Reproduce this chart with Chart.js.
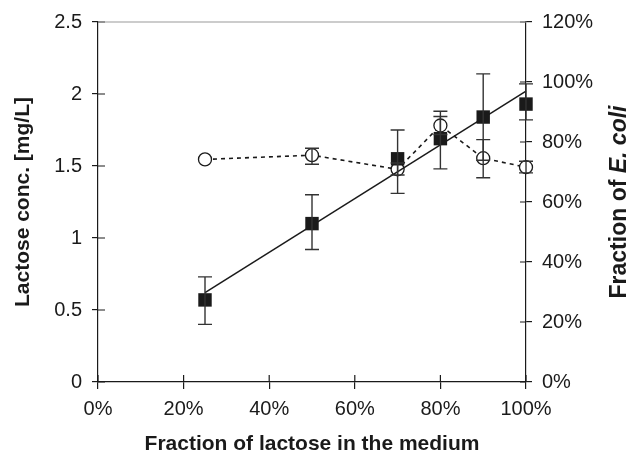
<!DOCTYPE html>
<html lang="en">
  <head>
    <meta charset="UTF-8" />
    <script src="https://cdn.jsdelivr.net/npm/chart.js@4.4.0/dist/chart.umd.min.js"></script>
    <title>Lactose chart</title>
    <style>
      body { margin: 0; background: #fff; }
      #wrap { width: 633px; height: 456px; }
    </style>
  </head>
  <body>
    <div id="wrap"><canvas id="chart"></canvas></div>

    <script>
      // values
      const fractions = [0.25, 0.5, 0.7, 0.8, 0.9, 1.0];
      const lactose = [0.57, 1.1, 1.55, 1.69, 1.84, 1.93];
      const lactoseHigh = [0.73, 1.3, 1.75, 1.88, 2.14, 2.07];
      const lactoseLow = [0.4, 0.92, 1.31, 1.48, 1.54, 1.82];
      const ecoli = [0.742, 0.756, 0.709, 0.855, 0.746, 0.716];
      const ecoliHigh = [0.742, 0.779, 0.73, 0.885, 0.808, 0.736];
      const ecoliLow = [0.742, 0.726, 0.69, 0.825, 0.681, 0.697];
      // linear fit through the lactose points
      const fitX = [0.25, 1.0];
      const fitY = [0.62, 2.02];

      const ink = "#1a1a1a";
      const FONT = "'Liberation Sans', Arial, sans-serif";
      Chart.defaults.font.family = FONT;
      Chart.defaults.color = ink;

      const pct = (v) => Math.round(v * 100) + "%";

      // error bars, inner tick marks, top frame and the right title
      const extras = {
        id: "extras",
        afterDatasetsDraw(chart) {
          const ctx = chart.ctx;
          const x = chart.scales.x, y = chart.scales.y, y2 = chart.scales.y2;
          ctx.save();
          ctx.strokeStyle = "#333";
          ctx.lineWidth = 1.4;
          const bar = (px, top, bot, cap) => {
            ctx.beginPath();
            ctx.moveTo(px, top); ctx.lineTo(px, bot);
            ctx.moveTo(px - cap, top); ctx.lineTo(px + cap, top);
            ctx.moveTo(px - cap, bot); ctx.lineTo(px + cap, bot);
            ctx.stroke();
          };
          fractions.forEach((f, i) => {
            const px = x.getPixelForValue(f);
            bar(px, y.getPixelForValue(lactoseHigh[i]), y.getPixelForValue(lactoseLow[i]), 7);
            if (ecoliHigh[i] !== ecoliLow[i]) {
              bar(px, y2.getPixelForValue(ecoliHigh[i]), y2.getPixelForValue(ecoliLow[i]), 7);
            }
          });
          ctx.restore();
        },
        afterDraw(chart) {
          const ctx = chart.ctx;
          const a = chart.chartArea;
          const x = chart.scales.x, y = chart.scales.y, y2 = chart.scales.y2;
          ctx.save();
          ctx.strokeStyle = ink;
          ctx.lineWidth = 1.2;
          ctx.beginPath();
          y.ticks.forEach((t) => {
            const p = y.getPixelForValue(t.value);
            ctx.moveTo(a.left, p); ctx.lineTo(a.left + 7, p);
          });
          y2.ticks.forEach((t) => {
            const p = y2.getPixelForValue(t.value);
            ctx.moveTo(a.right, p); ctx.lineTo(a.right - 6, p);
          });
          x.ticks.forEach((t) => {
            const p = x.getPixelForValue(t.value);
            ctx.moveTo(p, a.bottom); ctx.lineTo(p, a.bottom - 7);
          });
          ctx.stroke();
          // light top frame
          ctx.strokeStyle = "#9a9a9a";
          ctx.beginPath();
          ctx.moveTo(a.left, a.top); ctx.lineTo(a.right, a.top);
          ctx.stroke();

          // right axis title, reading upwards, with italic species name
          const partA = "Fraction of ";
          const partB = "E. coli";
          const fA = "bold 23px " + FONT;
          const fB = "italic bold 23px " + FONT;
          ctx.font = fA;
          const wA = ctx.measureText(partA).width;
          ctx.font = fB;
          const wB = ctx.measureText(partB).width;
          ctx.translate(620, (a.top + a.bottom) / 2);
          ctx.rotate(-Math.PI / 2);
          ctx.fillStyle = ink;
          ctx.textBaseline = "middle";
          ctx.textAlign = "left";
          ctx.font = fA;
          ctx.fillText(partA, -(wA + wB) / 2, 0);
          ctx.font = fB;
          ctx.fillText(partB, -(wA + wB) / 2 + wA, 0);
          ctx.restore();
        },
      };

      const ctx = document.getElementById("chart").getContext("2d");
      const myChart = new Chart(ctx, {
        type: "scatter",
        data: {
          datasets: [
            {
              label: "Lactose conc.",
              data: fractions.map((f, i) => ({ x: f, y: lactose[i] })),
              yAxisID: "y",
              pointStyle: "rect",
              pointRadius: 9.5,
              backgroundColor: ink,
              borderColor: ink,
              borderWidth: 0,
              clip: false,
              order: 0,
            },
            {
              label: "Fit",
              data: fitX.map((f, i) => ({ x: f, y: fitY[i] })),
              yAxisID: "y",
              showLine: true,
              pointRadius: 0,
              borderColor: ink,
              borderWidth: 1.5,
              clip: false,
              order: 1,
            },
            {
              label: "Fraction of E. coli",
              data: fractions.map((f, i) => ({ x: f, y: ecoli[i] })),
              yAxisID: "y2",
              showLine: true,
              borderDash: [4, 4],
              borderColor: ink,
              borderWidth: 1.6,
              pointStyle: "circle",
              pointRadius: 6.5,
              pointBackgroundColor: "#fff",
              pointBorderColor: ink,
              pointBorderWidth: 1.3,
              clip: false,
              order: 2,
            },
          ],
        },
        options: {
          responsive: true,
          maintainAspectRatio: false,
          animation: false,
          layout: { padding: { top: 20, left: 0, right: 0, bottom: 0 } },
          plugins: {
            legend: { display: false },
            tooltip: { enabled: false },
          },
          scales: {
            x: {
              type: "linear",
              min: 0,
              max: 1,
              afterFit: (s) => { s.height = 74; },
              ticks: {
                stepSize: 0.2,
                padding: 8,
                font: { size: 20 },
                callback: pct,
              },
              grid: { drawOnChartArea: false, tickLength: 7, color: ink, lineWidth: 1.2 },
              border: { color: ink, width: 1.2 },
              title: {
                display: true,
                text: "Fraction of lactose in the medium",
                font: { size: 21, weight: "bold", lineHeight: 1 },
                padding: { top: 0, bottom: 1 },
              },
            },
            y: {
              position: "left",
              min: 0,
              max: 2.5,
              afterFit: (s) => { s.width = 98; },
              ticks: {
                stepSize: 0.5,
                padding: 10,
                font: { size: 20 },
                callback: (v) => String(Math.round(v * 10) / 10),
              },
              grid: { drawOnChartArea: false, tickLength: 6, color: ink, lineWidth: 1.2 },
              border: { color: ink, width: 1.2 },
              title: {
                display: true,
                text: "Lactose conc. [mg/L]",
                font: { size: 21, weight: "bold", lineHeight: 1 },
                padding: { top: 13, bottom: 0 },
              },
            },
            y2: {
              position: "right",
              min: 0,
              max: 1.2,
              afterFit: (s) => { s.width = 107; },
              ticks: { stepSize: 0.2, padding: 10, font: { size: 20 }, callback: pct },
              grid: { drawOnChartArea: false, tickLength: 6, color: ink, lineWidth: 1.2 },
              border: { color: ink, width: 1.2 },
            },
          },
        },
        plugins: [extras],
      });
    </script>
  </body>
</html>
